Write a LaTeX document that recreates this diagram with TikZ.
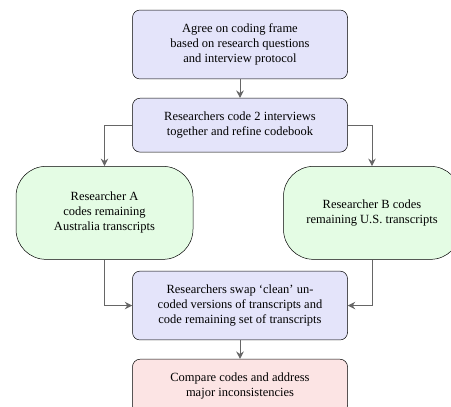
\documentclass[tikz,border=0pt]{standalone}
\usepackage{fontspec}
\setmainfont{Liberation Serif}
\usepackage{tikz}
\usetikzlibrary{arrows.meta,positioning,calc}
\definecolor{stepblue}{RGB}{228,228,250}
\definecolor{codegreen}{RGB}{228,252,228}
\definecolor{checkred}{RGB}{252,228,228}

\begin{document}
\begin{tikzpicture}[
        node distance=15pt,
        % Main process steps share one width; coding branches are rounder.
        box/.style={rectangle, rounded corners=6pt, draw, fill=#1, text=black,
            minimum width=172pt, inner ysep=11pt, align=center},
        branch/.style={rectangle, rounded corners=24pt, draw, fill=#1, text=black,
            minimum width=141.6pt, minimum height=74.4pt, align=center},
        flow/.style={draw=black!60, thick, -{Stealth[length=6pt,width=6pt,inset=2pt]}}
    ]
        \useasboundingbox (0,0) rectangle (360.8pt,-324.8pt);

        \node[box=stepblue] (node1) at (192pt,-35.6pt)
            {Agree on coding frame\\based on research questions\\and interview protocol};
        \node[box=stepblue, below=of node1] (node2)
            {Researchers code 2 interviews\\together and refine codebook};
        \node[branch=codegreen, below=11pt of node2.south, anchor=north, xshift=-108.4pt] (codeA)
            {Researcher A\\codes remaining\\Australia transcripts};
        \node[branch=codegreen, below=11pt of node2.south, anchor=north, xshift=105.6pt] (codeB)
            {Researcher B codes\\remaining U.S. transcripts};
        \coordinate (swaptop) at (node2 |- codeA.south);
        \node[box=stepblue, below=9pt of swaptop] (node4)
            {Researchers swap `clean' un-\\coded versions of transcripts and\\code remaining set of transcripts};
        \node[box=checkred, below=of node4] (node5)
            {Compare codes and address\\major inconsistencies};

        % Connections
        \draw[flow] (node1) -- (node2);
        \draw[flow] (node2.west) -| (codeA.north);
        \draw[flow] (node2.east) -| (codeB.north);
        \draw[flow] (codeA.south) |- (node4.west);
        \draw[flow] (codeB.south) |- (node4.east);
        \draw[flow] (node4) -- (node5);
    \end{tikzpicture}
\end{document}
